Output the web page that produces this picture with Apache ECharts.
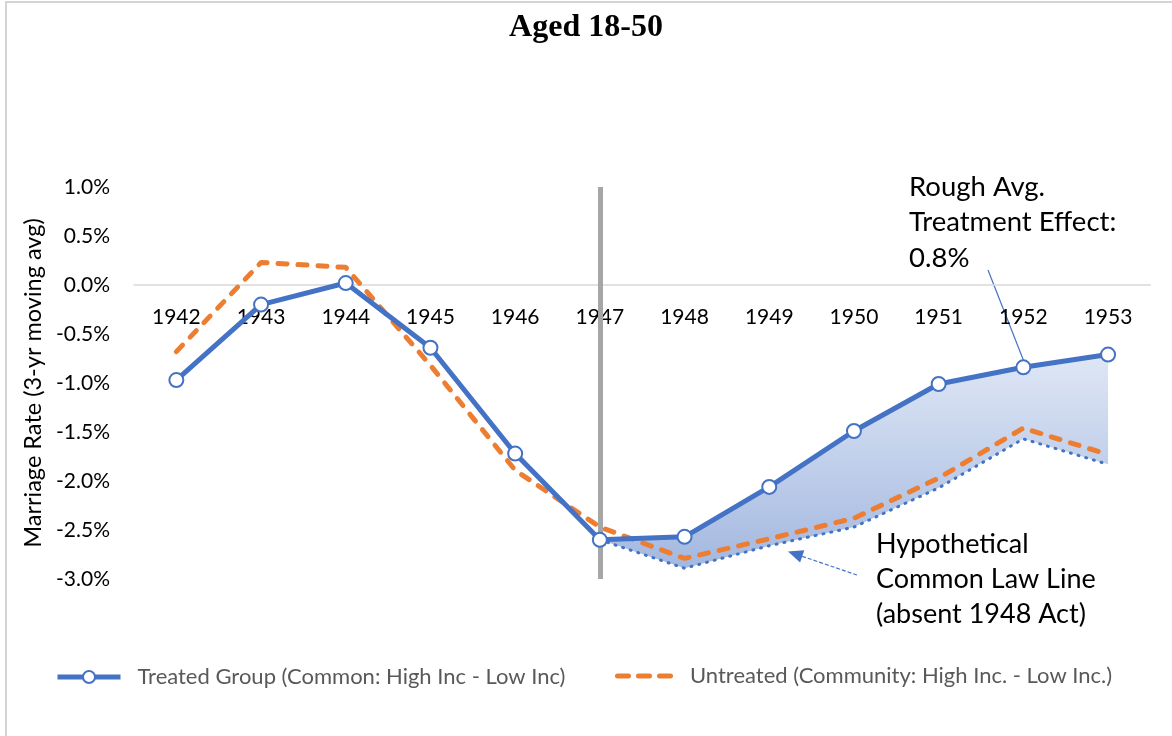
<!DOCTYPE html>
<html>
<head>
<meta charset="utf-8">
<script src="https://cdn.jsdelivr.net/npm/echarts@6/dist/echarts.min.js"></script>
<style>
html,body{margin:0;padding:0;background:#fff;}
#chart{width:1172px;height:736px;}
</style>
</head>
<body>
<div id="chart"></div>
<script>
// ---- data ----
var years = ['1942','1943','1944','1945','1946','1947','1948','1949','1950','1951','1952','1953'];
var treated = [-0.97, -0.20, 0.02, -0.64, -1.72, -2.60, -2.57, -2.06, -1.49, -1.01, -0.84, -0.71];
var untreated = [-0.68, 0.23, 0.18, -0.82, -1.89, -2.47, -2.79, -2.59, -2.38, -1.97, -1.46, -1.73];
var hypothetical = [null, null, null, null, null, -2.60, -2.89, -2.66, -2.47, -2.07, -1.57, -1.83];
var yMin = -3.0, yMax = 1.0, yStep = 0.5;
var treatedName = 'Treated Group (Common: High Inc - Low Inc)';
var untreatedName = 'Untreated (Community: High Inc. - Low Inc.)';
var yTitle = 'Marriage Rate (3-yr moving avg)';
var chartTitle = 'Aged 18-50';
var noteEffect = 'Rough Avg.\nTreatment Effect:\n0.8%';
var noteHypo = 'Hypothetical\nCommon Law Line\n(absent 1948 Act)';
var actYear = '1947';

var BLUE = '#4472c4', ORANGE = '#ed7d31';
var FONT = 'Lato';
var GRID = {left: 134, right: 21.6, top: 187, bottom: 157};
var plotH = 736 - GRID.top - GRID.bottom;
// move the category axis (line + labels) up to the value 0
var xOffset = -plotH * (0 - yMin) / (yMax - yMin);

function arrowGraphic(x1, y1, x2, y2, dashed) {
  var dx = x2 - x1, dy = y2 - y1, len = Math.sqrt(dx*dx + dy*dy);
  var ux = dx/len, uy = dy/len, hl = 15, hw = 6.5;
  var bx = x2 - ux*hl, by = y2 - uy*hl;
  return [
    {type:'line', shape:{x1:x1,y1:y1,x2:bx,y2:by},
     style:{stroke:BLUE, lineWidth:1.2, lineDash: dashed ? [4,2] : null}},
    {type:'polygon', shape:{points:[[x2,y2],[bx - uy*hw, by + ux*hw],[bx + uy*hw, by - ux*hw]]},
     style:{fill:BLUE}}
  ];
}

var chart = echarts.init(document.getElementById('chart'));
var option = {
  animation: false,
  backgroundColor: '#fff',
  title: {
    text: chartTitle, left: 'center', top: 7,
    textStyle: {fontFamily: 'Liberation Serif', fontWeight: 'bold', fontSize: 32, color: '#000'}
  },
  grid: {left: GRID.left, right: GRID.right, top: GRID.top, bottom: GRID.bottom, containLabel: false},
  legend: [
    {data: [treatedName], left: 50, top: 661, itemWidth: 63, itemHeight: 15,
     lineStyle: {width: 5},
     textStyle: {fontFamily: FONT, fontSize: 22, color: '#595959', padding: [0, 0, 0, 12]}},
    {data: [{name: untreatedName,
             icon: 'path://M2.5,0h11a2.5,2.5,0,0,1,0,5h-11a2.5,2.5,0,0,1,0,-5z M23.5,0h11a2.5,2.5,0,0,1,0,5h-11a2.5,2.5,0,0,1,0,-5z M44.5,0h11a2.5,2.5,0,0,1,0,5h-11a2.5,2.5,0,0,1,0,-5z'}],
     left: 610, top: 660, itemWidth: 58, itemHeight: 5,
     itemStyle: {color: ORANGE},
     textStyle: {fontFamily: FONT, fontSize: 22, color: '#595959', padding: [0, 0, 0, 12]}}
  ],
  xAxis: {
    type: 'category', data: years, boundaryGap: true,
    offset: xOffset,
    axisLine: {onZero: false, lineStyle: {color: '#d9d9d9', width: 1.5}},
    axisTick: {show: false},
    axisLabel: {fontFamily: FONT, fontSize: 21, color: '#000', margin: 22},
    splitLine: {show: false}
  },
  yAxis: {
    type: 'value', min: yMin, max: yMax, interval: yStep,
    axisLine: {show: false}, axisTick: {show: false},
    splitLine: {show: false},
    axisLabel: {fontFamily: FONT, fontSize: 21, color: '#000', margin: 24,
      formatter: function (v) { return v.toFixed(1) + '%'; }},
    name: yTitle, nameLocation: 'middle', nameRotate: 90, nameGap: 88,
    nameTextStyle: {fontFamily: FONT, fontSize: 23.5, color: '#000'}
  },
  series: [
    {
      type: 'custom', name: 'effect', silent: true, z: 1,
      data: [0],
      renderItem: function (params, api) {
        var pts = [];
        for (var i = 0; i < years.length; i++) {
          if (hypothetical[i] !== null) pts.push(api.coord([i, treated[i]]));
        }
        for (var j = years.length - 1; j >= 0; j--) {
          if (hypothetical[j] !== null) pts.push(api.coord([j, hypothetical[j]]));
        }
        return {
          type: 'polygon', shape: {points: pts},
          style: {fill: new echarts.graphic.LinearGradient(0, 0, 0, 1, [
            {offset: 0, color: '#dfe7f5'}, {offset: 1, color: '#a3b8e0'}])}
        };
      }
    },
    {
      type: 'line', name: 'hypo', data: hypothetical, z: 3,
      symbol: 'none', connectNulls: false,
      lineStyle: {color: BLUE, width: 3, type: [1, 7], cap: 'round'}
    },
    {
      type: 'line', name: untreatedName, data: untreated, z: 4,
      symbol: 'none', itemStyle: {color: ORANGE},
      lineStyle: {color: ORANGE, width: 5, type: [9, 11], cap: 'round'}
    },
    {
      type: 'line', name: treatedName, data: treated, z: 5,
      symbol: 'circle', symbolSize: 14,
      itemStyle: {color: '#fff', borderColor: BLUE, borderWidth: 2},
      lineStyle: {color: BLUE, width: 5},
      markLine: {
        silent: true, symbol: 'none', label: {show: false},
        lineStyle: {color: '#a6a6a6', width: 5, type: 'solid'},
        data: [{xAxis: actYear}]
      }
    }
  ],
  graphic: [
    {type: 'rect', shape: {x: 6, y: 2, width: 1300, height: 900}, silent: true,
     style: {fill: 'none', stroke: '#d4d4d4', lineWidth: 2}},
    {type: 'text', left: 909, top: 169,
     style: {text: noteEffect, fontFamily: FONT, fontSize: 27.5, lineHeight: 35.5, fill: '#000'}},
    {type: 'text', left: 876, top: 527,
     style: {text: noteHypo, fontFamily: FONT, fontSize: 27, lineHeight: 35, fill: '#000'}}
  ].concat(arrowGraphic(988, 270, 1035.5, 391, false))
   .concat(arrowGraphic(857, 575, 788, 551.5, true))
};
chart.setOption(option);
</script>
</body>
</html>
